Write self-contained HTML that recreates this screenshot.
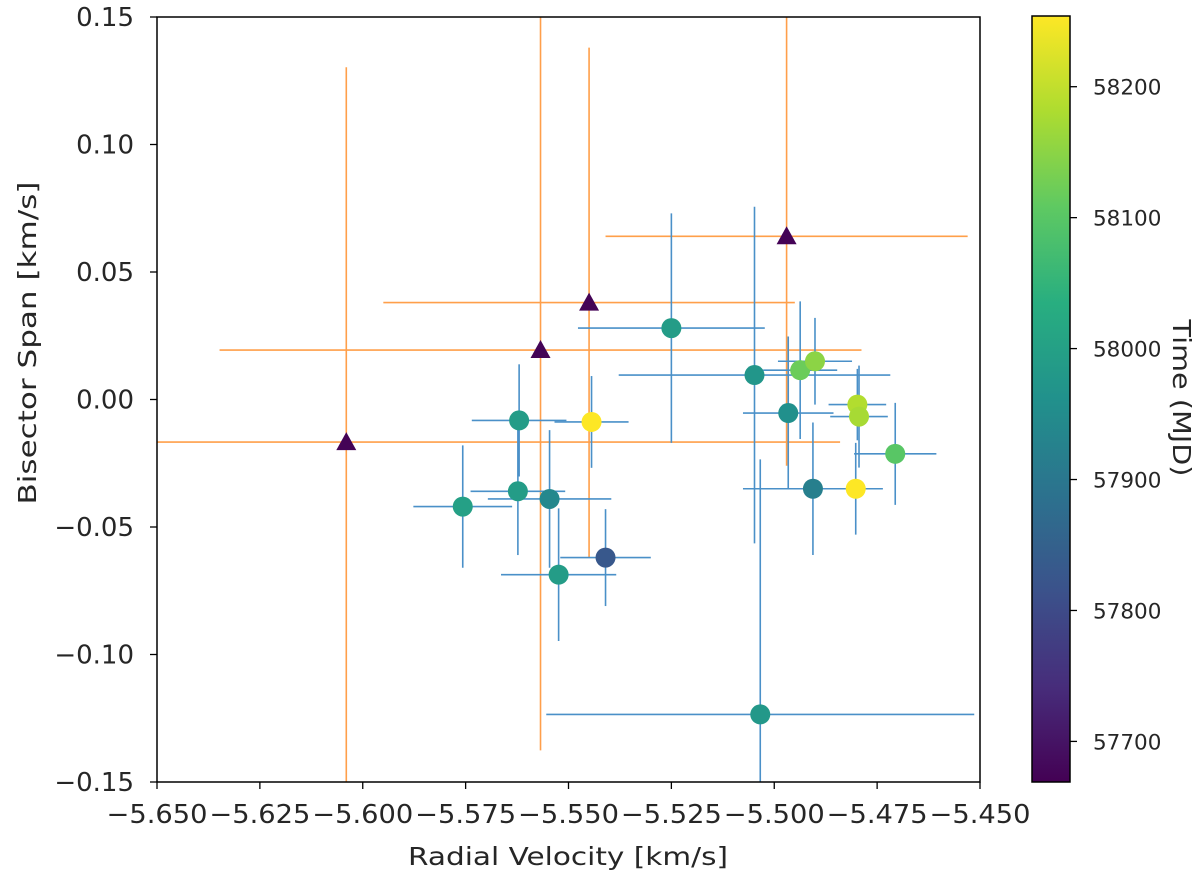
<!DOCTYPE html>
<html><head><meta charset="utf-8"><style>
html,body{margin:0;background:#fff;overflow:hidden;width:1200px;height:875px}
svg{display:block}
svg text{font-family:"DejaVu Sans","Liberation Sans",sans-serif;fill:#262626}
</style></head><body>
<svg id="chart" width="1200" height="875" viewBox="0 0 1200 875" xmlns="http://www.w3.org/2000/svg">
<defs>
<linearGradient id="viridis" x1="0" y1="1" x2="0" y2="0">
<stop offset="0" stop-color="#440154"/><stop offset="0.125" stop-color="#472d7b"/><stop offset="0.25" stop-color="#3b528b"/><stop offset="0.375" stop-color="#2c728e"/><stop offset="0.5" stop-color="#21918c"/><stop offset="0.625" stop-color="#28ae80"/><stop offset="0.75" stop-color="#5ec962"/><stop offset="0.875" stop-color="#addc30"/><stop offset="1" stop-color="#fde725"/>
</linearGradient>
<clipPath id="plotclip"><rect x="157" y="17" width="823" height="765"/></clipPath>
</defs>
<g id="marks" clip-path="url(#plotclip)"></g>
<rect x="157" y="17" width="823" height="765" fill="none" stroke="#000" stroke-width="1.5"/>
<rect x="1032" y="16" width="38" height="766" fill="url(#viridis)" stroke="#000" stroke-width="1.5"/>
<text x="568" y="865" font-size="25" text-anchor="middle" textLength="320" lengthAdjust="spacingAndGlyphs">Radial Velocity  [km/s]</text>
<text transform="translate(36,343) rotate(-90)" font-size="25" text-anchor="middle" textLength="323" lengthAdjust="spacingAndGlyphs">Bisector Span  [km/s]</text>
<text transform="translate(1173,398) rotate(90)" font-size="25" text-anchor="middle" textLength="157" lengthAdjust="spacingAndGlyphs">Time (MJD)</text>
</svg>
<script>
// Triangles (orange error bars)
const triRV=[-5.604,-5.5568,-5.545,-5.497];
const triBIS=[-0.0167,0.0194,0.038,0.064];
const triXerr=[0.12,0.078,0.05,0.044];
const triYerr=[0.147,0.157,0.10,0.09];
const triT=[57672,57672,57672,57672];
// Circles (blue error bars)
const cirRV=[-5.525,-5.5048,-5.4966,-5.4937,-5.4901,-5.4798,-5.4794,-5.4706,-5.4906,-5.4802,-5.5034,-5.562,-5.5444,-5.5623,-5.5546,-5.5757,-5.5524,-5.541];
const cirBIS=[0.028,0.0096,-0.0053,0.0115,0.015,-0.002,-0.0067,-0.0213,-0.035,-0.035,-0.1235,-0.0082,-0.0088,-0.036,-0.039,-0.042,-0.0687,-0.062];
const cirXerr=[0.0227,0.033,0.011,0.009,0.009,0.007,0.007,0.01,0.017,0.0,0.052,0.0115,0.009,0.0115,0.015,0.012,0.014,0.011];
const cirYerr=[0.045,0.066,0.03,0.027,0.017,0.014,0.02,0.02,0.026,0.018,0.1,0.022,0.018,0.025,0.027,0.024,0.026,0.019];
const cirT=[57990,57975,57960,58120,58150,58185,58175,58100,57920,58255,57980,57990,58255,57990,57940,58000,57990,57830];
const xTicks=[-5.650,-5.625,-5.600,-5.575,-5.550,-5.525,-5.500,-5.475,-5.450];
const yTicks=[-0.15,-0.10,-0.05,0.00,0.05,0.10,0.15];
const cTicks=[57700,57800,57900,58000,58100,58200];

const NS="http://www.w3.org/2000/svg";
const X0=157,X1=980,Y0=782,Y1=17;
const xs=v=>X0+(v+5.65)/0.2*(X1-X0);
const ys=v=>Y0-(v+0.15)/0.3*(Y0-Y1);
const TMIN=57669,TMAX=58254;
const cs=t=>782-(t-TMIN)/(TMAX-TMIN)*766;
const vir=["#440154","#472d7b","#3b528b","#2c728e","#21918c","#28ae80","#5ec962","#addc30","#fde725"];
function hex(h){return [1,3,5].map(i=>parseInt(h.substr(i,2),16));}
function cmap(t){let f=Math.max(0,Math.min(1,(t-TMIN)/(TMAX-TMIN)))*8;let i=Math.min(7,Math.floor(f)),r=f-i;
 const a=hex(vir[i]),b=hex(vir[i+1]);return "rgb("+a.map((c,k)=>Math.round(c+(b[k]-c)*r)).join(",")+")";}
function mk(tag,attrs,parent){const e=document.createElementNS(NS,tag);for(const k in attrs)e.setAttribute(k,attrs[k]);parent.appendChild(e);return e;}
const gm=document.getElementById('marks'),svg=document.getElementById('chart');
xTicks.forEach(v=>{
 const l=mk('line',{x1:xs(v),x2:xs(v),y1:782,y2:789,stroke:'#000','stroke-width':1.3},svg);
 
 
 const t=mk('text',{x:xs(v),y:823,'font-size':26,'text-anchor':'middle',textLength:101,lengthAdjust:'spacingAndGlyphs'},svg);
 t.textContent=v.toFixed(3).replace('-','\u2212');
 
 
});
yTicks.forEach(v=>{
 const l=mk('line',{x1:150,x2:157,y1:ys(v),y2:ys(v),stroke:'#000','stroke-width':1.3},svg);
 
 
 const t=mk('text',{x:134,y:ys(v)+9,'font-size':26,'text-anchor':'end'},svg);
 t.textContent=v.toFixed(2).replace('-','\u2212');
 
 
});
cTicks.forEach(v=>{
 const l=mk('line',{x1:1070,x2:1077,y1:cs(v),y2:cs(v),stroke:'#000','stroke-width':1.3},svg);
 
 
 const t=mk('text',{x:1093,y:cs(v)+8,'font-size':21.5},svg);
 t.textContent=v;
 
 
});
function err(x,y,ex,ey,col){
 const g=mk('g',{stroke:col,'stroke-width':1.6},gm);
 
 
 mk('line',{x1:xs(x-ex),x2:xs(x+ex),y1:ys(y),y2:ys(y)},g);
 mk('line',{x1:xs(x),x2:xs(x),y1:ys(y-ey),y2:ys(y+ey)},g);
}
triRV.forEach((v,i)=>err(v,triBIS[i],triXerr[i],triYerr[i],'#ff9f4a'));
cirRV.forEach((v,i)=>err(v,cirBIS[i],cirXerr[i],cirYerr[i],'#4a90c8'));
triRV.forEach((v,i)=>{
 const x=xs(v),y=ys(triBIS[i]);
 const p=mk('polygon',{points:`${x},${y-10} ${x-10},${y+8} ${x+10},${y+8}`,fill:cmap(triT[i])},gm);
 
 
});
cirRV.forEach((v,i)=>{
 const c=mk('circle',{cx:xs(v),cy:ys(cirBIS[i]),r:10,fill:cmap(cirT[i])},gm);
 
 
});
</script>
</body></html>
